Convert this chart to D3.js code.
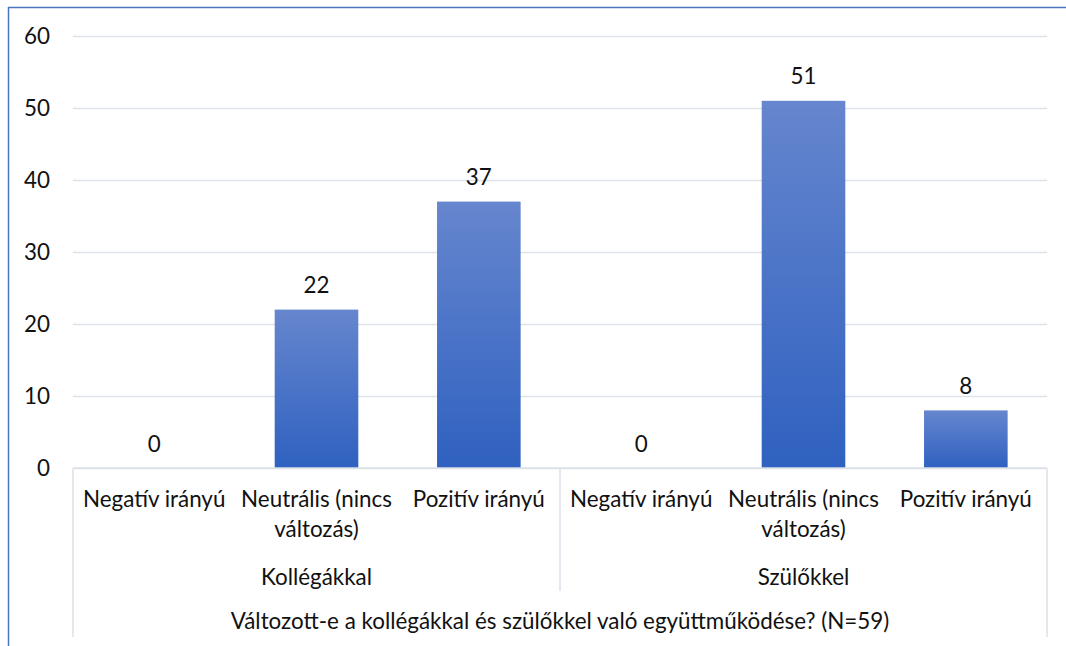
<!DOCTYPE html>
<html>
<head>
<meta charset="utf-8">
<script src="https://cdn.jsdelivr.net/npm/d3@7"></script>
<style>
  body { margin: 0; background: #fff; }
  text { font-family: Lato, "Open Sans", sans-serif; fill: #111; }
</style>
</head>
<body>
<div id="canvas"></div>
<script>
"use strict"

/* Data */
let groups = ["Kollégákkal", "Szülőkkel"];
let categories = ["Negatív irányú", "Neutrális (nincs változás)", "Pozitív irányú"];
let categoryLines = [["Negatív irányú"], ["Neutrális (nincs", "változás)"], ["Pozitív irányú"]];
let kollegakkal = [0, 22, 37];
let szulokkel = [0, 51, 8];
let yTicks = [0, 10, 20, 30, 40, 50, 60];
let axisTitle = "Változott-e a kollégákkal és szülőkkel való együttműködése? (N=59)";

/* Drawing config */
let svgWidth = 1066;
let svgHeight = 646;
let plotLeft = 73, plotRight = 1047, plotTop = 36, plotBottom = 468;
let gridColor = "#dde1e8";
let fontSize = 22.4;

let svg = d3.select("#canvas")
    .append("svg")
    .attr("width", svgWidth)
    .attr("height", svgHeight);

/* bar gradient */
let grad = svg.append("defs").append("linearGradient")
    .attr("id", "barGrad")
    .attr("x1", 0).attr("y1", 0).attr("x2", 0).attr("y2", 1);
grad.append("stop").attr("offset", "0%").attr("stop-color", "#6686ce");
grad.append("stop").attr("offset", "100%").attr("stop-color", "#2f61c0");

/* outer frame: top and left only */
svg.append("line")
    .attr("x1", 8).attr("x2", svgWidth)
    .attr("y1", 7.5).attr("y2", 7.5)
    .attr("stroke", "#4a74c0").attr("stroke-width", 1.5);
svg.append("line")
    .attr("x1", 8.5).attr("x2", 8.5)
    .attr("y1", 7).attr("y2", svgHeight)
    .attr("stroke", "#4a74c0").attr("stroke-width", 1.5);

// flatten into one row per bar
let rows = [];
groups.forEach(function(g, gi) {
    let vals = gi === 0 ? kollegakkal : szulokkel;
    categories.forEach(function(c, ci) {
        rows.push({group: g, cat: c, lines: categoryLines[ci], key: g + "|" + c, value: vals[ci]});
    });
});

let xScale = d3.scaleBand()
    .domain(rows.map(function(d) { return d.key; }))
    .range([plotLeft, plotRight])
    .paddingInner(0.485)
    .paddingOuter(0.2425);

let groupScale = d3.scaleBand()
    .domain(groups)
    .range([plotLeft, plotRight]);

let yScale = d3.scaleLinear()
    .domain([0, 60])
    .range([plotBottom, plotTop]);

/* y axis with gridlines */
let yAxis = svg.append("g")
    .attr("transform", "translate(" + plotLeft + ",0)")
    .call(d3.axisLeft(yScale)
        .tickValues(yTicks)
        .tickSize(-(plotRight - plotLeft))
        .tickPadding(23));
yAxis.select(".domain").remove();
yAxis.selectAll("line")
    .attr("stroke", gridColor)
    .attr("stroke-width", 1.5);
yAxis.selectAll("text")
    .attr("font-size", fontSize)
    .style("font-family", "Lato, sans-serif")
    .attr("fill", "#111");

/* bars */
svg.selectAll("rect.bar")
    .data(rows)
    .join("rect")
    .attr("class", "bar")
    .attr("x", function(d) { return xScale(d.key); })
    .attr("width", xScale.bandwidth())
    .attr("y", function(d) { return yScale(d.value); })
    .attr("height", function(d) { return yScale(0) - yScale(d.value); })
    .attr("fill", "url(#barGrad)");

/* value labels */
svg.selectAll("text.val")
    .data(rows)
    .join("text")
    .attr("class", "val")
    .attr("x", function(d) { return xScale(d.key) + xScale.bandwidth() / 2; })
    .attr("y", function(d) { return yScale(d.value) - 25; })
    .attr("text-anchor", "middle")
    .attr("dominant-baseline", "central")
    .attr("font-size", fontSize)
    .text(function(d) { return d.value; });

/* x axis line and group separators */
svg.append("line")
    .attr("x1", plotLeft).attr("x2", plotRight)
    .attr("y1", plotBottom).attr("y2", plotBottom)
    .attr("stroke", gridColor).attr("stroke-width", 1.5);

let sepX = [plotLeft].concat(groups.slice(1).map(function(g) { return groupScale(g); }), [plotRight]);
svg.selectAll("line.sep")
    .data(sepX)
    .join("line")
    .attr("class", "sep")
    .attr("x1", function(d) { return d; })
    .attr("x2", function(d) { return d; })
    .attr("y1", plotBottom)
    .attr("y2", function(d, i) { return (i === 0 || i === sepX.length - 1) ? 637 : 591; })
    .attr("stroke", gridColor).attr("stroke-width", 1.5);

/* category labels */
let catLabels = svg.selectAll("text.cat")
    .data(rows)
    .join("text")
    .attr("class", "cat")
    .attr("text-anchor", "middle")
    .attr("font-size", fontSize);
catLabels.selectAll("tspan")
    .data(function(d) { return d.lines.map(function(l) { return {line: l, x: xScale(d.key) + xScale.bandwidth() / 2}; }); })
    .join("tspan")
    .attr("x", function(d) { return d.x; })
    .attr("y", function(d, i) { return 498 + i * 30; })
    .attr("dominant-baseline", "central")
    .text(function(d) { return d.line; });

/* group labels */
svg.selectAll("text.grp")
    .data(groups)
    .join("text")
    .attr("class", "grp")
    .attr("x", function(d) { return groupScale(d) + groupScale.bandwidth() / 2; })
    .attr("y", 576)
    .attr("text-anchor", "middle")
    .attr("dominant-baseline", "central")
    .attr("font-size", fontSize)
    .text(function(d) { return d; });

/* axis title */
svg.append("text")
    .attr("x", (plotLeft + plotRight) / 2)
    .attr("y", 620)
    .attr("text-anchor", "middle")
    .attr("dominant-baseline", "central")
    .attr("font-size", fontSize)
    .text(axisTitle);
</script>
</body>
</html>
